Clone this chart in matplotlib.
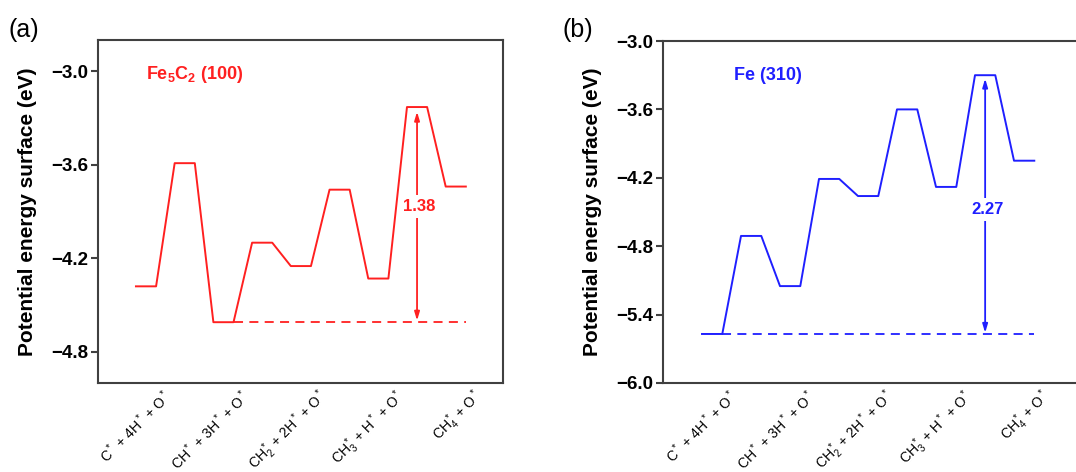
import matplotlib
matplotlib.use('Agg')
import matplotlib.pyplot as plt

plt.rcParams['font.family'] = ['Liberation Sans', 'DejaVu Sans']
plt.rcParams['mathtext.fontset'] = 'custom'
plt.rcParams['mathtext.rm'] = 'Liberation Sans:bold'
plt.rcParams['mathtext.it'] = 'Liberation Sans:bold'
plt.rcParams['mathtext.bf'] = 'Liberation Sans:bold'
plt.rcParams['mathtext.default'] = 'regular'

# intermediate / transition state energies (eV), left to right
states = ['C* + 4H* + O*', 'TS1', 'CH* + 3H* + O*', 'TS2', 'CH2* + 2H* + O*',
          'TS3', 'CH3* + H* + O*', 'TS4', 'CH4* + O*']
energy_fe5c2 = [-4.38, -3.59, -4.61, -4.10, -4.25, -3.76, -4.33, -3.23, -3.74]
energy_fe = [-5.57, -4.71, -5.15, -4.21, -4.36, -3.60, -4.28, -3.30, -4.05]

tick_labels = [r'C$^*$ + 4H$^*$ + O$^*$', r'CH$^*$ + 3H$^*$ + O$^*$',
               r'CH$_2^*$ + 2H$^*$ + O$^*$', r'CH$_3^*$ + H$^*$ + O$^*$',
               r'CH$_4^*$ + O$^*$']

red = '#ff2020'
blue = '#1f1fff'
spine_col = '#404040'


def draw_panel(ax, energy, color, name, name_x, ylim, yticks, ref_idx, ts_idx, barrier, text_y):
    half = 0.26
    x, y = [], []
    for i, e in enumerate(energy):
        x += [i - half, i + half]
        y += [e, e]
    ax.plot(x, y, color=color, lw=1.4)
    # reference dashed line from the lowest state to the end
    ax.plot([ref_idx + half, len(energy) - 1 + half], [energy[ref_idx]] * 2,
            color=color, lw=1.3, ls=(0, (5, 3.5)))
    # barrier arrow
    ax.annotate('', xy=(ts_idx, energy[ts_idx] - 0.03), xytext=(ts_idx, energy[ref_idx] + 0.01),
                arrowprops=dict(arrowstyle='<|-|>,head_length=0.5,head_width=0.15',
                                color=color, lw=1.3, shrinkA=0, shrinkB=0))
    ax.text(ts_idx + 0.05, text_y, barrier, color=color, fontsize=12, fontweight='bold',
            ha='center', va='center',
            bbox=dict(facecolor='white', edgecolor='none', pad=3))
    ax.text(name_x, 0.898, name, transform=ax.get_xaxis_transform(), color=color,
            fontsize=13, fontweight='bold', ha='left', va='center')

    ax.set_ylim(*ylim)
    ax.set_yticks(yticks)
    ax.set_yticklabels([f'\u2212{abs(t):.1f}' for t in yticks])
    ax.set_xticks([])
    # rotated state labels under every intermediate
    for k, lab in enumerate(tick_labels):
        ax.annotate(lab, xy=(2 * k, 0), xycoords=ax.get_xaxis_transform(),
                    xytext=(11.5, -2.5), textcoords='offset points',
                    rotation=45, rotation_mode='anchor', ha='right', va='top',
                    fontsize=10, annotation_clip=False)
    ax.tick_params(axis='y', direction='out', length=5, width=1.5, color=spine_col,
                   labelsize=13.5, pad=2)
    for lbl in ax.get_yticklabels():
        lbl.set_fontweight('bold')
    for s in ax.spines.values():
        s.set_color(spine_col)
        s.set_linewidth(1.5)
    ax.set_ylabel('Potential energy surface (eV)', fontsize=15, fontweight='bold', labelpad=10)


fig = plt.figure(figsize=(10.76, 4.72), dpi=100)
W, H = 1076, 472
ax1 = fig.add_axes([98 / W, (H - 383) / H, 405 / W, 343 / H])
ax2 = fig.add_axes([663 / W, (H - 383) / H, 425 / W, 342 / H])

draw_panel(ax1, energy_fe5c2, red, r'Fe$_5$C$_2$ (100)', 0.0, (-5.0, -2.8),
           [-3.0, -3.6, -4.2, -4.8], 2, 7, '1.38', -3.87)
ax1.set_xlim(-1.24, 9.22)

draw_panel(ax2, energy_fe, blue, 'Fe (310)', 0.56, (-6.0, -3.0),
           [-3.0, -3.6, -4.2, -4.8, -5.4, -6.0], 0, 7, '2.27', -4.48)
ax2.set_xlim(-1.26, -1.26 + 425 / 39)

fig.text(8 / W, 1 - 30 / H, '(a)', fontsize=18, va='center', ha='left')
fig.text(562 / W, 1 - 30 / H, '(b)', fontsize=18, va='center', ha='left')

fig.savefig('out.png', dpi=100)
